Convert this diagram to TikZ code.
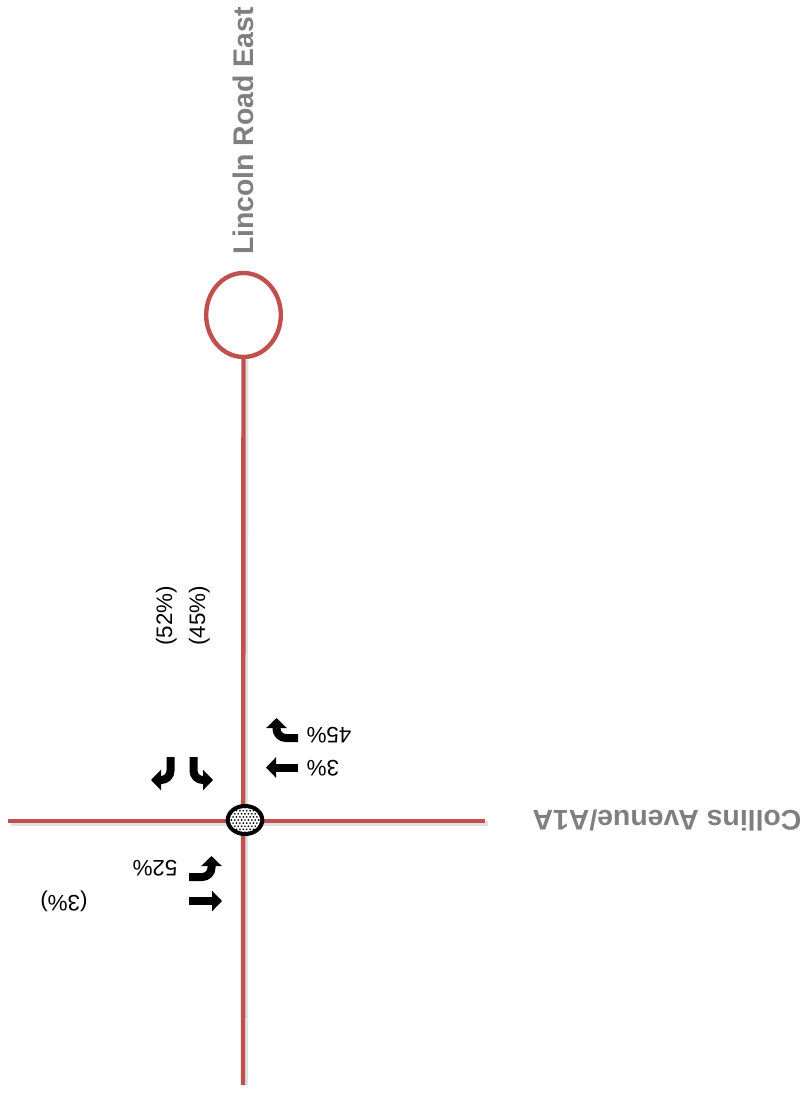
\documentclass[tikz,border=0pt]{standalone}
\usepackage{fontspec}
\setmainfont{Liberation Sans}
\usetikzlibrary{arrows.meta,shapes.geometric}
\definecolor{roadred}{HTML}{C0504D}
\definecolor{labelgray}{RGB}{127,127,127}
\begin{document}
\begin{tikzpicture}[x=0.75pt,y=-0.75pt,
  road/.style={roadred,line width=3.3pt},
  roadshadow/.style={black!12,line width=3.3pt},
  streetname/.style={text=labelgray,font=\fontsize{21.3}{24}\selectfont\bfseries,inner sep=0pt},
  pct/.style={font=\fontsize{16.8}{20}\selectfont,inner sep=0pt},
  turnarrow/.style={line width=6pt,rounded corners=7pt,-{Triangle[length=7.5pt,width=15pt]}}]
\useasboundingbox (0,0) rectangle (806,1095);
% road ends
\coordinate (wEnd) at (8,821);
\coordinate (eEnd) at (485,821);
\coordinate (sEnd) at (243,1085);
\node[ellipse,draw=roadred,line width=3.3pt,minimum width=56pt,minimum height=63pt,inner sep=0pt] (lincolnCircle) at (243.5,315) {};
% shadows
\draw[roadshadow] ([xshift=2pt,yshift=-2pt]wEnd) -- ([xshift=2pt,yshift=-2pt]eEnd);
\draw[roadshadow] ([xshift=2pt]lincolnCircle.south) -- ([xshift=2pt]sEnd);
% roads
\draw[road] (wEnd) -- (eEnd);
\draw[road] (lincolnCircle.south) -- (sEnd);
% junction
\node[ellipse,fill=white,minimum width=26pt,minimum height=21pt,inner sep=0pt] (jn) at (245,820) {};
\begin{scope}
  \clip (jn.center) ellipse [x radius=17.5,y radius=14.2];
  \foreach \i in {-6,...,6}{
    \foreach \j in {-5,...,5}{
      \fill[black] ({245+3.4*\i+1.7*mod(abs(\j),2)},{820+3.1*\j}) circle [radius=0.95];
    }
  }
\end{scope}
\draw[black,line width=3pt] (jn.center) ellipse [x radius=17.3,y radius=14];
% street names
\node[streetname,rotate=90,anchor=base] (lincolnName) at (253,131) {Lincoln Road East};
\node[streetname,rotate=180,anchor=base] (collinsName) at (667,810) {Collins Avenue/A1A};
% percentages
\node[pct,rotate=180,anchor=base] (p45) at (329,727) {45\%};
\node[pct,rotate=180,anchor=base] (p3) at (323,760) {3\%};
\node[pct,rotate=180,anchor=base] (p52) at (155,860) {52\%};
\node[pct,rotate=180,anchor=base] (p3b) at (64,895) {(3\%)};
\node[pct,rotate=90,anchor=base] (p52b) at (172,616) {(52\%)};
\node[pct,rotate=90,anchor=base] (p45b) at (205,616) {(45\%)};
% turning arrows
\coordinate (a1s) at (298,738);
\coordinate (a1m) at (276.5,738);
\coordinate (a1e) at (276.5,718);
\draw[turnarrow] (a1s) -- (a1m) -- (a1e);
\coordinate (a2s) at (298,767.5);
\coordinate (a2e) at (266,767.5);
\draw[turnarrow] (a2s) -- (a2e);
\coordinate (a3s) at (170.5,757);
\coordinate (a3m) at (170.5,780);
\coordinate (a3e) at (151,780);
\draw[turnarrow] (a3s) -- (a3m) -- (a3e);
\coordinate (a4s) at (193.5,757);
\coordinate (a4m) at (193.5,780);
\coordinate (a4e) at (213,780);
\draw[turnarrow] (a4s) -- (a4m) -- (a4e);
\coordinate (a5s) at (189,877);
\coordinate (a5m) at (211.5,877);
\coordinate (a5e) at (211.5,856);
\draw[turnarrow] (a5s) -- (a5m) -- (a5e);
\coordinate (a6s) at (189,901);
\coordinate (a6e) at (222,901);
\draw[turnarrow] (a6s) -- (a6e);
\end{tikzpicture}
\end{document}
